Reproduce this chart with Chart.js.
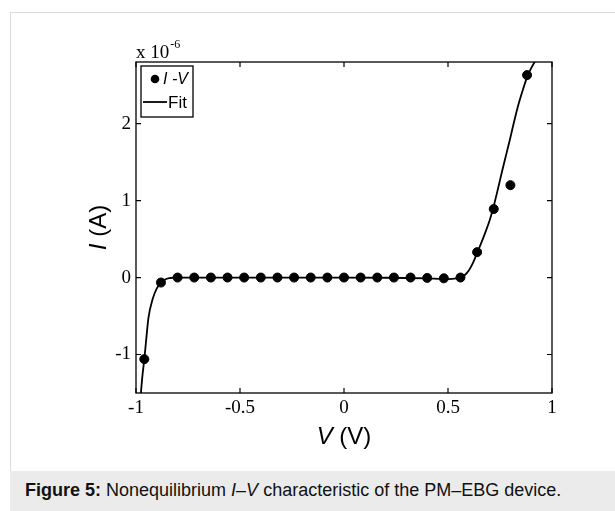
<!DOCTYPE html>
<html>
<head>
<meta charset="utf-8">
<script src="https://cdn.jsdelivr.net/npm/chart.js@4.4.1/dist/chart.umd.min.js"></script>
<style>
  html, body { margin:0; padding:0; background:#fff; width:615px; height:511px; overflow:hidden; }
  #frame { position:absolute; left:10px; top:12px; width:605px; height:499px;
           border-top:1px solid #dcdcdc; border-left:1px solid #dcdcdc; box-sizing:border-box; }
  #caption { position:absolute; left:10px; top:471px; width:605px; height:40px; background:#ebebeb;
             font-family:"Liberation Sans", Arial, sans-serif; font-size:18px; color:#111;
             box-sizing:border-box; padding-left:15px; line-height:38px; white-space:nowrap; }
  #c { position:absolute; left:0; top:0; }
</style>
</head>
<body>
<div id="frame"></div>
<div id="caption"><b>Figure 5:</b> Nonequilibrium <i>I</i>–<i>V</i> characteristic of the PM–EBG device.</div>
<canvas id="c" width="615" height="471"></canvas>
<script>
// ---- data (units: V in volts, I in 1e-6 A) ----
const measV = [-0.96, -0.88, -0.80, -0.72, -0.64, -0.56, -0.48, -0.40, -0.32, -0.24, -0.16, -0.08,
               0.00, 0.08, 0.16, 0.24, 0.32, 0.40, 0.48, 0.56, 0.64, 0.72, 0.80, 0.88];
const measI = [-1.06, -0.065, 0.0, 0.0, 0.0, 0.0, 0.0, 0.0, 0.0, 0.0, 0.0, 0.0,
               0.0, 0.0, 0.0, 0.0, 0.0, -0.005, -0.01, 0.0, 0.33, 0.89, 1.20, 2.63];
const fitV = [-0.978, -0.97, -0.96, -0.95, -0.94, -0.92, -0.90, -0.88, -0.86, -0.84, -0.82, -0.80,
              -0.60, -0.40, -0.20, 0.00, 0.20, 0.30, 0.40, 0.46, 0.50, 0.54, 0.56, 0.58, 0.60,
              0.62, 0.64, 0.66, 0.68, 0.70, 0.72, 0.74, 0.76, 0.78, 0.80, 0.82, 0.84, 0.86,
              0.88, 0.90, 0.93];
const fitI = [-1.55, -1.30, -1.06, -0.78, -0.52, -0.28, -0.14, -0.065, -0.025, -0.008, -0.002, 0.0,
              0.0, 0.0, 0.0, 0.0, -0.003, -0.006, -0.012, -0.018, -0.02, -0.012, 0.0, 0.03, 0.09,
              0.19, 0.32, 0.45, 0.59, 0.74, 0.93, 1.15, 1.38, 1.60, 1.82, 2.05, 2.26, 2.44,
              2.60, 2.72, 2.86];
const xTicks = [-1, -0.5, 0, 0.5, 1];
const xTickLabels = ["-1", "-0.5", "0", "0.5", "1"];
const yTicks = [-1, 0, 1, 2];
const yTickLabels = ["-1", "0", "1", "2"];
const seriesNames = ["I -V", "Fit"];
const yExponent = "-6";

const serif = '"Liberation Serif", "Times New Roman", serif';
const sans = '"Liberation Sans", Arial, sans-serif';

const framePlugin = {
  id: 'matlabFrame',
  afterDatasetsDraw(chart) {
    const ctx = chart.ctx, a = chart.chartArea;
    const xs = chart.scales.x, ys = chart.scales.y;
    ctx.save();
    ctx.strokeStyle = '#000';
    ctx.lineWidth = 1.3;
    ctx.strokeRect(a.left, a.top, a.right - a.left, a.bottom - a.top);
    ctx.lineWidth = 1.2;
    const tl = 5;
    ctx.beginPath();
    xTicks.forEach(v => {
      const px = xs.getPixelForValue(v);
      ctx.moveTo(px, a.bottom); ctx.lineTo(px, a.bottom - tl);
      ctx.moveTo(px, a.top); ctx.lineTo(px, a.top + tl);
    });
    yTicks.forEach(v => {
      const py = ys.getPixelForValue(v);
      ctx.moveTo(a.left, py); ctx.lineTo(a.left + tl, py);
      ctx.moveTo(a.right, py); ctx.lineTo(a.right - tl, py);
    });
    ctx.stroke();

    // legend box inside the plot (top-left)
    const lx = a.left + 5, ly = a.top + 4, lw = 52, lh = 51;
    ctx.fillStyle = '#fff';
    ctx.fillRect(lx, ly, lw, lh);
    ctx.lineWidth = 1.3;
    ctx.strokeStyle = '#000';
    ctx.strokeRect(lx, ly, lw, lh);
    ctx.save();
    ctx.beginPath(); ctx.rect(lx, ly, lw, lh); ctx.clip();
    ctx.fillStyle = '#000';
    ctx.beginPath(); ctx.arc(lx + 14, ly + 13, 4.3, 0, Math.PI * 2); ctx.fill();
    ctx.font = 'italic 16px ' + sans;
    ctx.textBaseline = 'middle';
    ctx.textAlign = 'left';
    ctx.fillText(chart.data.datasets[1].label, lx + 22, ly + 14);
    ctx.lineWidth = 1.8;
    ctx.beginPath(); ctx.moveTo(lx + 2, ly + 36); ctx.lineTo(lx + 26, ly + 36); ctx.stroke();
    ctx.font = '17px ' + sans;
    ctx.fillText(chart.data.datasets[0].label, lx + 27, ly + 37);
    ctx.restore();

    // exponent label
    ctx.fillStyle = '#000';
    ctx.textBaseline = 'alphabetic';
    ctx.textAlign = 'left';
    ctx.font = '19px ' + serif;
    const base = 'x 10';
    ctx.fillText(base, a.left, a.top - 4);
    const w = ctx.measureText(base).width;
    ctx.font = '12px ' + serif;
    ctx.fillText(yExponent, a.left + w + 1, a.top - 14);

    // axis titles with italic symbols
    function mixed(parts, cx, cy, rot) {
      ctx.save();
      ctx.translate(cx, cy);
      ctx.rotate(rot);
      let total = 0;
      parts.forEach(p => { ctx.font = p[1] + ' 24px ' + sans; total += ctx.measureText(p[0]).width; });
      let x = -total / 2;
      ctx.textBaseline = 'middle';
      parts.forEach(p => { ctx.font = p[1] + ' 24px ' + sans; ctx.fillText(p[0], x, 0); x += ctx.measureText(p[0]).width; });
      ctx.restore();
    }
    mixed([['V', 'italic'], [' (V)', 'normal']], (a.left + a.right) / 2, a.bottom + 44, 0);
    mixed([['I', 'italic'], [' (A)', 'normal']], a.left - 37, (a.top + a.bottom) / 2, -Math.PI / 2);
    ctx.restore();
  }
};

new Chart(document.getElementById('c'), {
  type: 'scatter',
  data: {
    datasets: [
      {
        label: seriesNames[1],
        data: fitV.map((v, i) => ({ x: v, y: fitI[i] })),
        showLine: true,
        borderColor: '#000',
        borderWidth: 1.8,
        pointRadius: 0,
        cubicInterpolationMode: 'monotone',
        order: 2
      },
      {
        label: seriesNames[0],
        data: measV.map((v, i) => ({ x: v, y: measI[i] })),
        showLine: false,
        backgroundColor: '#000',
        borderColor: '#000',
        pointRadius: 4.5,
        order: 1
      }
    ]
  },
  options: {
    responsive: false,
    animation: false,
    layout: { padding: { left: 96, right: 63, top: 62, bottom: 38 } },
    plugins: { legend: { display: false }, tooltip: { enabled: false } },
    scales: {
      x: {
        type: 'linear', min: -1, max: 1,
        afterBuildTicks: s => { s.ticks = xTicks.map(v => ({ value: v })); },
        afterFit: s => { s.height = 40; },
        grid: { display: false, drawTicks: false },
        border: { display: false },
        ticks: {
          padding: 4, color: '#000', font: { family: serif, size: 19 },
          maxRotation: 0, autoSkip: false,
          callback: (v) => xTickLabels[xTicks.indexOf(v)]
        }
      },
      y: {
        type: 'linear', min: -1.5, max: 2.8,
        afterBuildTicks: s => { s.ticks = yTicks.map(v => ({ value: v })); },
        afterFit: s => { s.width = 40; },
        grid: { display: false, drawTicks: false },
        border: { display: false },
        ticks: {
          padding: 5, color: '#000', font: { family: serif, size: 19 },
          autoSkip: false,
          callback: (v) => yTickLabels[yTicks.indexOf(v)]
        }
      }
    }
  },
  plugins: [framePlugin]
});
</script>
</body>
</html>
